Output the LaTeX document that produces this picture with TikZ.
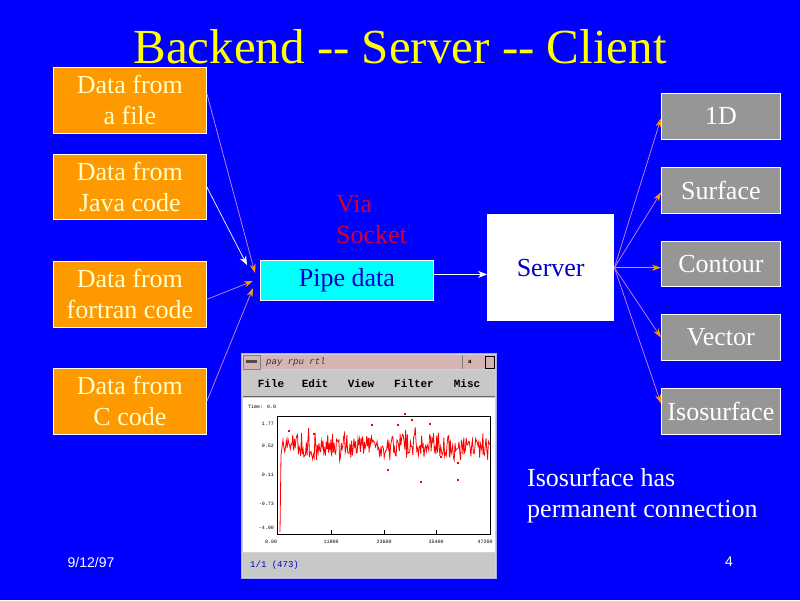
\documentclass[tikz,border=0pt]{standalone}
\usepackage{fontspec}
\setmainfont{Liberation Serif}
\newfontfamily\footfont{Liberation Sans}
\newfontfamily\scrfont{Liberation Mono}
\usetikzlibrary{arrows.meta}
\definecolor{bg}{RGB}{0,0,255}
\definecolor{boxor}{RGB}{255,153,0}
\definecolor{boxtext}{RGB}{255,255,204}
\definecolor{boxgray}{RGB}{150,150,150}
\definecolor{pipecyan}{RGB}{0,255,255}
\definecolor{darkblue}{RGB}{0,0,200}
\definecolor{socketred}{RGB}{210,0,50}
\definecolor{linepink}{RGB}{210,140,200}
\definecolor{heador}{RGB}{255,153,0}
\definecolor{wingray}{RGB}{210,210,210}
\definecolor{titlerose}{RGB}{215,180,180}
\definecolor{menugray}{RGB}{200,200,200}
\definecolor{framelav}{RGB}{170,170,230}
\tikzset{
  body/.style={font=\fontsize{26}{31}\selectfont, align=center},
  srcbox/.style={body, anchor=north west, inner sep=0pt, fill=boxor, draw=white, line width=0.8pt,
    text=boxtext, minimum width=153pt},
  outbox/.style={body, anchor=north west, inner sep=0pt, fill=boxgray, draw=white, line width=0.8pt,
    text=white, minimum width=119pt, minimum height=46pt},
  feed/.style={draw=linepink, line width=0.7pt, -{Stealth[length=9pt,width=6pt,color=heador]}},
  feedw/.style={draw=white, line width=0.7pt, -{Stealth[length=9pt,width=7pt,color=white]}},
  tiny/.style={font=\scrfont\fontsize{5}{6}\selectfont, inner sep=0pt, text=black},
  menu/.style={font=\scrfont\bfseries\fontsize{11}{12}\selectfont, inner sep=0pt, text=black}
}
\begin{document}
\begin{tikzpicture}[x=1pt,y=-1pt]
\useasboundingbox (0,0) rectangle (800,600);
\fill[bg] (0,0) rectangle (800,600);

% title
\node[anchor=base, inner sep=0pt, text={rgb,255:red,255;green,255;blue,0}, font=\fontsize{49}{56}\selectfont]
  (title) at (400,63) {Backend -{}- Server -{}- Client};

% source boxes
\node[srcbox, minimum height=66pt] (f1) at (53,67) {Data from\\a file};
\node[srcbox, minimum height=65pt] (f2) at (53,154) {Data from\\Java code};
\node[srcbox, minimum height=66pt] (f3) at (53,261) {Data from\\fortran code};
\node[srcbox, minimum height=66pt] (f4) at (53,368) {Data from\\C code};

% pipe and server
\node[body, anchor=north west, inner sep=0pt, fill=pipecyan, draw=white, line width=0.8pt,
  text=darkblue, minimum width=173pt, minimum height=40pt] (pipe) at (260,260) {Pipe data};
\node[body, anchor=north west, inner sep=0pt, fill=white, text=darkblue,
  minimum width=127pt, minimum height=107pt] (server) at (487,214) {Server};

% output boxes
\node[outbox] (r1) at (661,93) {1D};
\node[outbox] (r2) at (661,167) {Surface};
\node[outbox, minimum height=45pt] (r3) at (661,241) {Contour};
\node[outbox] (r4) at (661,314) {Vector};
\node[outbox] (r5) at (661,388) {Isosurface};

% texts
\node[body, anchor=base west, inner sep=0pt, text=socketred] (via) at (336,212) {Via};
\node[body, anchor=base west, inner sep=0pt, text=socketred] (sock) at (336,243) {Socket};
\node[body, anchor=base west, inner sep=0pt, text=white] (iso1) at (527,486) {Isosurface has};
\node[body, anchor=base west, inner sep=0pt, text=white] (iso2) at (527,517) {permanent connection};
\node[anchor=center, inner sep=0pt, text=white, font=\footfont\fontsize{14}{16}\selectfont] (date) at (91,562) {9/12/97};
\node[anchor=center, inner sep=0pt, text=white, font=\footfont\fontsize{14}{16}\selectfont] (page) at (729,562) {4};

% input connectors
\coordinate (t1) at (255,273);
\coordinate (t2) at (247,265);
\coordinate (t3) at (253,281);
\coordinate (t4) at (253,288);
\draw[feed] ([yshift=7pt]f1.east) -- (t1);
\draw[feedw] (f2.east) -- (t2);
\draw[feed] ([yshift=-5pt]f3.east) -- (t3);
\draw[feed] (f4.east) -- (t4);

% pipe to server
\draw[feedw] ([yshift=6pt]pipe.east) -- ([yshift=6pt]pipe.east -| server.west);

% server to outputs
\draw[feed] (server.east) -- ([yshift=-2pt]r1.west);
\draw[feed] (server.east) -- ([yshift=-2pt]r2.west);
\draw[feed] (server.east) -- (server.east -| r3.west);
\draw[feed] (server.east) -- (r4.west);
\draw[feed] (server.east) -- ([yshift=8pt]r5.west);

% screenshot window
\fill[wingray] (241,353) rectangle (497,579);
\draw[framelav, line width=1.2pt] (241.5,353.5) rectangle (496.5,578.5);
\fill[titlerose] (243,355) rectangle (495,369);
\draw[gray, line width=0.5pt] (243,355) rectangle (260,369);
\fill[black!70] (246,360) rectangle (257,363);
\draw[gray, line width=0.5pt] (462,355) -- (462,369);
\node[tiny, font=\scrfont\bfseries\fontsize{6}{7}\selectfont] (wmin) at (470,362) {a};
\draw[black, line width=0.7pt] (485,356) rectangle (494,368);
\node[anchor=west, inner sep=0pt, text=black!80, font=\scrfont\itshape\fontsize{9}{10}\selectfont] (wtitle) at (266,362) {pay rpu rtl};
\fill[menugray] (243,370) rectangle (495,396);
\draw[black!60, line width=0.6pt] (243,396.5) -- (495,396.5);
\node[menu] (m1) at (271,384) {File};
\node[menu] (m2) at (315,384) {Edit};
\node[menu] (m3) at (361,384) {View};
\node[menu] (m4) at (414,384) {Filter};
\node[menu] (m5) at (467,384) {Misc};
\fill[white] (243,398) rectangle (495,552);
\fill[menugray] (243,553) rectangle (495,577);
\node[anchor=west, inner sep=0pt, text=darkblue, font=\scrfont\fontsize{9}{10}\selectfont] (status) at (250,565) {1/1 (473)};

% plot
\node[tiny, anchor=west] (ptime) at (248,407) {Time: 0.0};
\draw[black, line width=0.6pt] (277,416) rectangle (490,534);
\node[tiny, anchor=east] (y1) at (274,424) {1.77};
\node[tiny, anchor=east] (y2) at (274,446) {0.52};
\node[tiny, anchor=east] (y3) at (274,475) {0.11};
\node[tiny, anchor=east] (y4) at (274,504) {-0.73};
\node[tiny, anchor=east] (y5) at (274,528) {-4.00};
\node[tiny] (x1) at (271,542) {0.00};
\node[tiny] (x2) at (331,542) {11800};
\node[tiny] (x3) at (384,542) {23600};
\node[tiny] (x4) at (436,542) {35400};
\node[tiny] (x5) at (485,542) {47200};
\foreach \tx in {331,384,436}{\draw[black, line width=0.5pt] (\tx,534) -- (\tx,530);}
\pgfmathsetseed{7}
\draw[red, line width=0.8pt] (280,532) -- (281,455) -- (283,440)
  -- plot[domain=284:490, samples=260] (\x, {446 + 12*rand + 12*rand*rand*rand});
\foreach \px/\py in {405/414, 412/420, 398/425, 430/424, 289/431, 314/434, 441/457, 458/463, 327/448, 372/425, 388/470, 421/482, 458/480}{
  \fill[red] (\px-1,\py-1) rectangle (\px+1,\py+1);
}
\end{tikzpicture}
\end{document}
